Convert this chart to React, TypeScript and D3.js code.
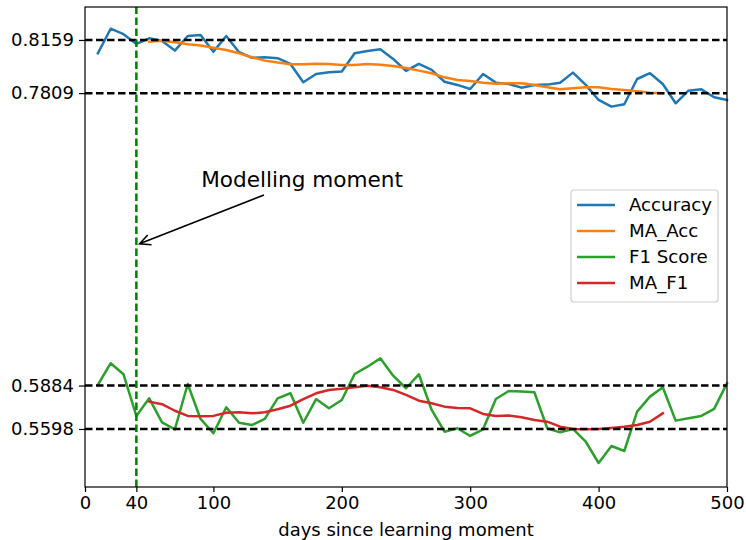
import React, { useEffect, useRef } from 'react';
import * as d3 from 'd3';

// days after the learning moment (one point every 10 days)
const days = [
  10, 20, 30, 40, 50, 60, 70, 80, 90, 100,
  110, 120, 130, 140, 150, 160, 170, 180, 190, 200,
  210, 220, 230, 240, 250, 260, 270, 280, 290, 300,
  310, 320, 330, 340, 350, 360, 370, 380, 390, 400,
  410, 420, 430, 440, 450, 460, 470, 480, 490, 500,
];

const accuracy = [
  0.8071, 0.8233, 0.8197, 0.8133, 0.8170, 0.8152, 0.8089, 0.8185, 0.8192, 0.8082,
  0.8185, 0.8078, 0.8042, 0.8045, 0.8039, 0.8001, 0.7881, 0.7935, 0.7947, 0.7951,
  0.8071, 0.8087, 0.8098, 0.8034, 0.7955, 0.8001, 0.7962, 0.7884, 0.7863, 0.7836,
  0.7935, 0.7878, 0.7869, 0.7845, 0.7863, 0.7865, 0.7878, 0.7944, 0.7863, 0.7764,
  0.7720, 0.7736, 0.7902, 0.7940, 0.7869, 0.7742, 0.7825, 0.7834, 0.7782, 0.7764,
];

const f1Score = [
  0.5888, 0.6031, 0.5958, 0.5684, 0.5800, 0.5642, 0.5596, 0.5894, 0.5664, 0.5570,
  0.5741, 0.5639, 0.5624, 0.5664, 0.5800, 0.5833, 0.5639, 0.5795, 0.5734, 0.5789,
  0.5960, 0.6008, 0.6063, 0.5949, 0.5866, 0.5958, 0.5723, 0.5580, 0.5603, 0.5552,
  0.5596, 0.5795, 0.5848, 0.5844, 0.5840, 0.5603, 0.5576, 0.5598, 0.5514, 0.5374,
  0.5486, 0.5453, 0.5712, 0.5811, 0.5873, 0.5653, 0.5668, 0.5684, 0.5730, 0.5899,
];

// moving averages start once the window is filled
const maDays = [
  50, 60, 70, 80, 90, 100, 110, 120, 130, 140,
  150, 160, 170, 180, 190, 200, 210, 220, 230, 240,
  250, 260, 270, 280, 290, 300, 310, 320, 330, 340,
  350, 360, 370, 380, 390, 400, 410, 420, 430, 440, 450,
];

const maAcc = [
  0.8148, 0.8154, 0.8144, 0.8131, 0.8122, 0.8108, 0.8093, 0.8071, 0.8045, 0.8023,
  0.8010, 0.7999, 0.7999, 0.8003, 0.8001, 0.7994, 0.7994, 0.8001, 0.7996, 0.7988,
  0.7975, 0.7957, 0.7940, 0.7913, 0.7896, 0.7889, 0.7878, 0.7871, 0.7874, 0.7874,
  0.7863, 0.7848, 0.7834, 0.7841, 0.7848, 0.7848, 0.7836, 0.7830, 0.7821, 0.7812, 0.7809,
];

const maF1 = [
  0.5778, 0.5761, 0.5718, 0.5684, 0.5682, 0.5684, 0.5705, 0.5708, 0.5701, 0.5708,
  0.5728, 0.5751, 0.5794, 0.5833, 0.5855, 0.5863, 0.5873, 0.5883, 0.5873, 0.5855,
  0.5822, 0.5784, 0.5767, 0.5745, 0.5736, 0.5734, 0.5697, 0.5684, 0.5686, 0.5675,
  0.5657, 0.5646, 0.5613, 0.5598, 0.5596, 0.5598, 0.5605, 0.5613, 0.5624, 0.5646, 0.5701,
];

const refLevels = [0.8159, 0.7809, 0.5884, 0.5598];
const xTicks = [0, 40, 100, 200, 300, 400, 500];
const modelDay = 40;

const annotationText = 'Modelling moment';
const annotationPoint = [42.5, 0.6817];
const annotationTextPos = [90.5, 0.7191];

const App = () => {
  const svgRef = useRef(null);

  useEffect(() => {
    d3.select(svgRef.current).selectAll('*').remove();

    const width = 746;
    const height = 540;
    const margin = { top: 7, right: 19, bottom: 53, left: 85 };
    const font = 'DejaVu Sans, sans-serif';
    const lw = 2.5;
    const dash = '7.5,3.5';

    const svg = d3.select(svgRef.current)
      .attr('width', width)
      .attr('height', height);

    const x = d3.scaleLinear()
      .domain([0, 500])
      .range([margin.left, width - margin.right]);

    const y = d3.scaleLinear()
      .domain([0.5216, 0.8376])
      .range([height - margin.bottom, margin.top]);

    const series = [
      { name: 'Accuracy', xs: days, ys: accuracy, color: '#1f77b4' },
      { name: 'MA_Acc', xs: maDays, ys: maAcc, color: '#ff7f0e' },
      { name: 'F1 Score', xs: days, ys: f1Score, color: '#2ca02c' },
      { name: 'MA_F1', xs: maDays, ys: maF1, color: '#d62728' },
    ];

    const line = d3.line()
      .x(d => x(d[0]))
      .y(d => y(d[1]));

    // series
    series.forEach(s => {
      svg.append('path')
        .datum(s.xs.map((d, i) => [d, s.ys[i]]))
        .attr('d', line)
        .attr('fill', 'none')
        .attr('stroke', s.color)
        .attr('stroke-width', lw)
        .attr('stroke-linejoin', 'round')
        .attr('stroke-linecap', 'square');
    });

    // reference levels
    svg.selectAll('.ref')
      .data(refLevels)
      .enter().append('line')
      .attr('class', 'ref')
      .attr('x1', x(0))
      .attr('x2', x(500))
      .attr('y1', d => y(d))
      .attr('y2', d => y(d))
      .attr('stroke', 'black')
      .attr('stroke-width', lw)
      .attr('stroke-dasharray', dash);

    // modelling moment
    svg.append('line')
      .attr('x1', x(modelDay))
      .attr('x2', x(modelDay))
      .attr('y1', y.range()[0])
      .attr('y2', y.range()[1])
      .attr('stroke', 'green')
      .attr('stroke-width', lw)
      .attr('stroke-dasharray', dash);

    // axes
    const xAxis = svg.append('g')
      .attr('transform', `translate(0,${height - margin.bottom})`)
      .call(d3.axisBottom(x).tickValues(xTicks).tickSize(5).tickPadding(4).tickSizeOuter(0));

    const yAxis = svg.append('g')
      .attr('transform', `translate(${margin.left},0)`)
      .call(d3.axisLeft(y).tickValues(refLevels).tickFormat(d3.format('.4f')).tickSize(6).tickPadding(5).tickSizeOuter(0));

    [xAxis, yAxis].forEach(g => {
      g.select('.domain').remove();
      g.selectAll('line').attr('stroke', 'black').attr('stroke-width', 1.2);
      g.selectAll('text')
        .style('font-family', font)
        .style('font-size', '18px')
        .attr('fill', 'black');
    });

    // frame
    svg.append('rect')
      .attr('x', margin.left)
      .attr('y', margin.top)
      .attr('width', width - margin.left - margin.right)
      .attr('height', height - margin.top - margin.bottom)
      .attr('fill', 'none')
      .attr('stroke', 'black')
      .attr('stroke-width', 1.2);

    svg.append('text')
      .attr('x', (margin.left + width - margin.right) / 2)
      .attr('y', height - 4)
      .style('font-family', font)
      .style('font-size', '18px')
      .style('text-anchor', 'middle')
      .text('days since learning moment');

    // annotation
    const tx = x(annotationTextPos[0]);
    const ty = y(annotationTextPos[1]);
    svg.append('text')
      .attr('x', tx)
      .attr('y', ty)
      .style('font-family', font)
      .style('font-size', '21.6px')
      .text(annotationText);

    const px = x(annotationPoint[0]);
    const py = y(annotationPoint[1]);
    const sx = 264;
    const sy = ty + 8;
    const ang = Math.atan2(sy - py, sx - px);
    const head = 12;
    const spread = 0.45;
    svg.append('path')
      .attr('d', `M${sx},${sy}L${px},${py}` +
        `M${px + head * Math.cos(ang - spread)},${py + head * Math.sin(ang - spread)}L${px},${py}` +
        `L${px + head * Math.cos(ang + spread)},${py + head * Math.sin(ang + spread)}`)
      .attr('fill', 'none')
      .attr('stroke', 'black')
      .attr('stroke-width', 1.6);

    // legend
    const legend = svg.append('g').attr('transform', 'translate(571,190)');
    legend.append('rect')
      .attr('width', 147)
      .attr('height', 112)
      .attr('rx', 3)
      .attr('fill', 'white')
      .attr('fill-opacity', 0.8)
      .attr('stroke', '#cccccc')
      .attr('stroke-width', 1.1);

    const items = legend.selectAll('.legend')
      .data(series)
      .enter().append('g')
      .attr('class', 'legend')
      .attr('transform', (d, i) => `translate(0,${15 + i * 26})`);

    items.append('line')
      .attr('x1', 6)
      .attr('x2', 44)
      .attr('stroke', d => d.color)
      .attr('stroke-width', lw);

    items.append('text')
      .attr('x', 58)
      .attr('dy', '0.35em')
      .style('font-family', font)
      .style('font-size', '18.2px')
      .text(d => d.name);
  }, []);

  return (
    <svg ref={svgRef} style={{ position: 'absolute', left: 0, top: 0 }}></svg>
  );
};

export default App;
